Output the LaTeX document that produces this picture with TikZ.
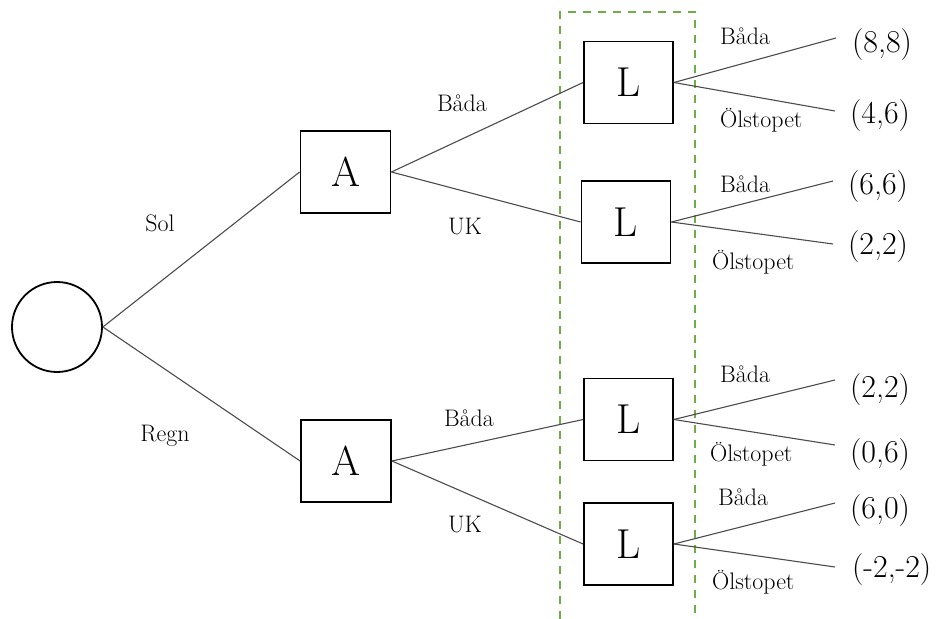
\documentclass[tikz,border=0pt]{standalone}
\usepackage{fontspec}
\begin{document}
\begin{tikzpicture}[x=1bp,y=-1bp,
  box/.style={draw=black,line width=1.8bp,minimum width=89bp,minimum height=82bp,inner sep=0,font=\fontsize{42}{46}\selectfont},
  chance/.style={draw=black,line width=1.8bp,circle,minimum size=90bp,inner sep=0},
  conn/.style={draw=black!70,line width=1.1bp},
  lbl/.style={inner sep=0,font=\fontsize{24}{28}\selectfont},
  pay/.style={inner sep=0,anchor=base west,font=\fontsize{32}{36}\selectfont},
  info/.style={draw={rgb,255:red,112;green,173;blue,71},line width=2.2bp,dash pattern=on 8bp off 7bp}]
\useasboundingbox (0,0) rectangle (942,619);
\fill[white] (0,0) rectangle (942,619);
% information set
\draw[info] (560,619) -- (560,12) -- (695,12) -- (695,619);
% nodes
\node[chance] (C) at (57,327) {};
\node[box,minimum width=90bp] (A1) at (345.5,172) {A};
\node[box,minimum width=90bp] (A2) at (346,461) {A};
\node[box] (L1) at (628.5,82.5) {L};
\node[box] (L2) at (626,222) {L};
\node[box] (L3) at (628.5,419.5) {L};
\node[box] (L4) at (628.5,544) {L};
% free ends
\coordinate (e1) at (836,38);
\coordinate (e2) at (835,111);
\coordinate (e3) at (833,181);
\coordinate (e4) at (833,244);
\coordinate (e5) at (835,380);
\coordinate (e6) at (835,445);
\coordinate (e7) at (835,503);
\coordinate (e8) at (835,567);
% connectors
\draw[conn] (C.east) -- (A1.west);
\draw[conn] (C.east) -- (A2.west);
\draw[conn] (A1.east) -- (L1.west);
\draw[conn] (A1.east) -- (L2.west);
\draw[conn] (A2.east) -- (L3.west);
\draw[conn] (A2.east) -- (L4.west);
\draw[conn] (L1.east) -- (e1);
\draw[conn] (L1.east) -- (e2);
\draw[conn] (L2.east) -- (e3);
\draw[conn] (L2.east) -- (e4);
\draw[conn] (L3.east) -- (e5);
\draw[conn] (L3.east) -- (e6);
\draw[conn] (L4.east) -- (e7);
\draw[conn] (L4.east) -- (e8);
% branch labels
\node[lbl,anchor=base] (sol) at (160,232) {Sol};
\node[lbl,anchor=base] (regn) at (165,441) {Regn};
\node[lbl,anchor=base] (b1) at (462,112) {Båda};
\node[lbl,anchor=base] (u1) at (465,235) {UK};
\node[lbl,anchor=base] (b2) at (469,426) {Båda};
\node[lbl,anchor=base] (u2) at (465,532) {UK};
\node[lbl,anchor=base west] (r1) at (720,45) {Båda};
\node[lbl,anchor=base west] (r2) at (720,128) {Ölstopet};
\node[lbl,anchor=base west] (r3) at (720,193) {Båda};
\node[lbl,anchor=base west] (r4) at (712,270) {Ölstopet};
\node[lbl,anchor=base west] (r5) at (720,382) {Båda};
\node[lbl,anchor=base west] (r6) at (710,461) {Ölstopet};
\node[lbl,anchor=base west] (r7) at (718,505) {Båda};
\node[lbl,anchor=base west] (r8) at (712,589) {Ölstopet};
% payoffs
\node[pay] (p1) at (852,53) {(8,8)};
\node[pay] (p2) at (850,124) {(4,6)};
\node[pay] (p3) at (848,195) {(6,6)};
\node[pay] (p4) at (848,255) {(2,2)};
\node[pay] (p5) at (850,397) {(2,2)};
\node[pay] (p6) at (850,462) {(0,6)};
\node[pay] (p7) at (850,518) {(6,0)};
\node[pay] (p8) at (852,577) {(-2,-2)};
\end{tikzpicture}
\end{document}
